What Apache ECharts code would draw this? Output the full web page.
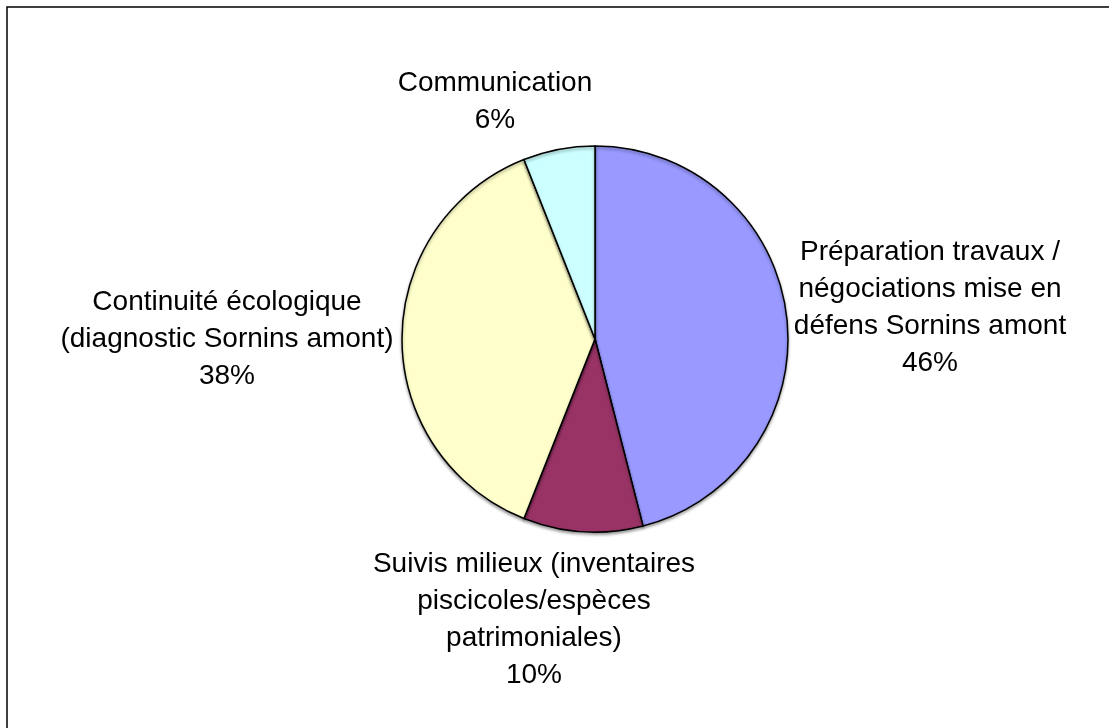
<!DOCTYPE html>
<html>
<head>
<meta charset="utf-8">
<title>Répartition</title>
<script src="https://cdn.jsdelivr.net/npm/echarts@6/dist/echarts.min.js"></script>
<style>
  html, body { margin: 0; padding: 0; background: #fff; }
  #chart { width: 1109px; height: 728px; }
</style>
</head>
<body>
<div id="chart"></div>
<script>
// categories and shares (%), clockwise from 12 o'clock
const categories = [
  'Préparation travaux /\nnégociations mise en\ndéfens Sornins amont',
  'Suivis milieux (inventaires\npiscicoles/espèces\npatrimoniales)',
  'Continuité écologique\n(diagnostic Sornins amont)',
  'Communication'
]
const shares = [46, 10, 38, 6]
const colors = ['#9999FF', '#993366', '#FFFFCC', '#CCFFFF']

// where Excel put each label block (centre point)
const labelSpots = [[930, 308], [534, 620], [227, 339], [495, 102]]

const chart = echarts.init(document.getElementById('chart'))

const option = {
  backgroundColor: '#fff',
  animation: false,
  graphic: [{
    type: 'rect',
    shape: { x: 7, y: 7, width: 1130, height: 750 },
    style: { fill: 'none', stroke: '#000', lineWidth: 1.5 },
    silent: true
  }],
  series: [{
    type: 'pie',
    center: [595, 339],
    radius: 193,
    startAngle: 90,
    clockwise: true,
    avoidLabelOverlap: false,
    itemStyle: {
      borderColor: '#000',
      borderWidth: 1.5,
      shadowColor: 'rgba(0,0,0,0.35)',
      shadowBlur: 3,
      shadowOffsetY: 2
    },
    label: {
      show: true,
      position: 'outside',
      formatter: p => p.name + '\n' + p.value + '%',
      fontFamily: 'Liberation Sans, Arial, sans-serif',
      fontSize: 28,
      lineHeight: 37,
      color: '#000',
      align: 'center'
    },
    labelLine: { show: false },
    labelLayout: params => ({
      x: labelSpots[params.dataIndex][0],
      y: labelSpots[params.dataIndex][1],
      align: 'center',
      verticalAlign: 'middle'
    }),
    data: categories.map((name, i) => ({
      name: name,
      value: shares[i],
      itemStyle: { color: colors[i] }
    }))
  }]
}

chart.setOption(option)
window.addEventListener('resize', () => chart.resize())
</script>
</body>
</html>
